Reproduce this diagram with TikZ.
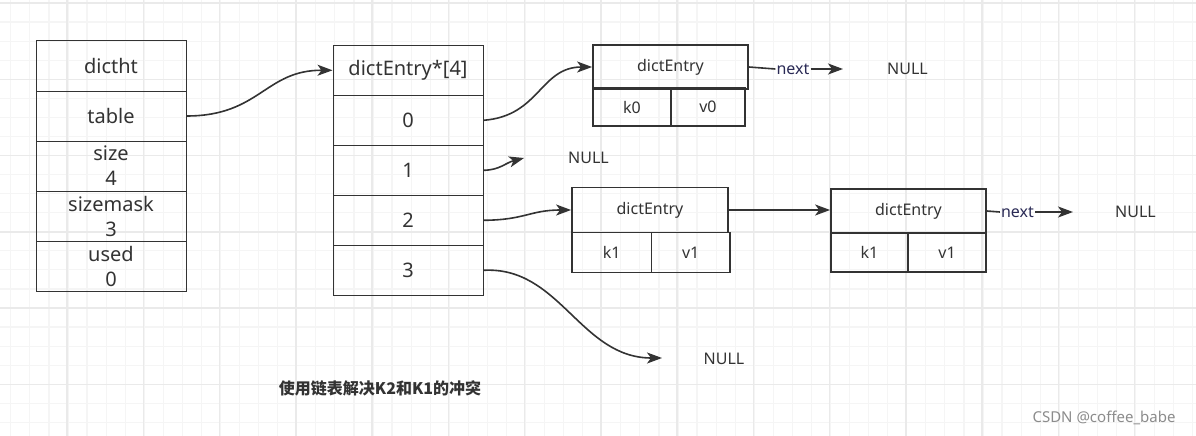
\documentclass[tikz,border=0pt]{standalone}
\usepackage{fontspec}
\setmainfont{Noto Sans}
\newfontfamily\cjk{Noto Sans CJK SC}
\usetikzlibrary{arrows.meta}
\definecolor{ink}{HTML}{333333}
\definecolor{gridfine}{HTML}{F5F5F5}
\definecolor{gridmajor}{HTML}{EAEAEA}
\definecolor{nextc}{HTML}{2A2A55}
\definecolor{wm}{HTML}{8C8C8C}
\begin{document}
\begin{tikzpicture}[x=1pt,y=-1pt,
  cell/.style={draw=ink, line width=1pt, minimum width=150pt, minimum height=50pt, inner sep=0pt,
    font=\fontsize{20}{25}\selectfont, text=ink, align=center},
  ent/.style={draw=ink, line width=1.8pt, inner sep=0pt, font=\fontsize{16}{20}\selectfont, text=ink},
  arr/.style={draw=ink, line width=1.6pt, -{Stealth[length=15pt,width=11pt,inset=4pt]}},
  lbl/.style={font=\fontsize{16}{20}\selectfont, text=ink, inner sep=0pt},
  nxt/.style={font=\fontsize{16}{20}\selectfont, text=nextc, inner sep=1pt},
  fine/.style={draw=gridfine, line width=1.2pt},
  major/.style={draw=gridmajor, line width=1.5pt}]
\useasboundingbox (0,0) rectangle (1196,436);
\fill[white] (0,0) rectangle (1196,436);
% grid
\foreach \i in {0,...,62} {\draw[fine] ({10.8+19.0625*\i},0) -- ++(0,436);}
\foreach \i in {0,...,22} {\draw[fine] (0,{3+19.0625*\i}) -- ++(1196,0);}
\foreach \i in {0,...,14} {\draw[major] ({67+76.25*\i},0) -- ++(0,436);}
\foreach \i in {0,...,5} {\draw[major] (0,{3+76.25*\i}) -- ++(1196,0);}
% dictht
\node[cell] (h0) at (111,66) {dictht};
\node[cell] (h1) at (111,116) {table};
\node[cell] (h2) at (111,166) {size\\4};
\node[cell] (h3) at (111,216) {sizemask\\3};
\node[cell] (h4) at (111,266) {used\\0};
% table array
\node[cell] (t) at (408,70.3) {dictEntry*[4]};
\node[cell] (c0) at (408,120.3) {0};
\node[cell] (c1) at (408,170.3) {1};
\node[cell] (c2) at (408,220.3) {2};
\node[cell] (c3) at (408,270.3) {3};
% entry 0
\node[ent, minimum width=155pt, minimum height=44pt] (e0) at (670.5,67) {dictEntry};
\node[ent, minimum width=78pt, minimum height=38pt] (k0) at (632,107) {k0};
\node[ent, minimum width=74pt, minimum height=38pt] (v0) at (708,107) {v0};
% entry A
\node[ent, minimum width=156pt, minimum height=45pt] (eA) at (650,210) {dictEntry};
\node[ent, minimum width=79.5pt, minimum height=40pt] (kA) at (611.75,252.5) {k1};
\node[ent, minimum width=78.5pt, minimum height=40pt] (vA) at (690.75,252.5) {v1};
% entry B
\node[ent, minimum width=155pt, minimum height=44pt] (eB) at (908.5,211) {dictEntry};
\node[ent, minimum width=77pt, minimum height=39pt] (kB) at (869.5,252.5) {k1};
\node[ent, minimum width=78pt, minimum height=39pt] (vB) at (947,252.5) {v1};
% NULLs
\node[lbl] (n0) at (907.5,69) {NULL};
\node[lbl] (n1) at (588.5,158) {NULL};
\node[lbl] (n2) at (1135.5,212) {NULL};
\node[lbl] (n3) at (724,359) {NULL};
\node[nxt] (x0) at (793,69) {next};
\node[nxt] (x2) at (1017.5,212) {next};
\coordinate (a0) at (843,69);
\coordinate (a1) at (524,158);
\coordinate (a2) at (1073,212);
\coordinate (a3) at (662,358);
% connectors
\draw[arr] (h1.east) .. controls (260,116) and (265,70) .. (t.west);
\draw[arr] (c0.east) .. controls (540,116) and (540,67) .. (e0.west);
\draw[arr] (c1.east) .. controls (500,170) and (505,163) .. (a1);
\draw[arr] (c2.east) .. controls (525,220) and (530,210) .. (eA.west);
\draw[arr] (eA.east) -- (eB.west |- eA.east);
\draw[arr] (c3.east) .. controls (560,266) and (580,358) .. (a3);
\draw[draw=ink, line width=1.6pt] (e0.east) -- (x0.west);
\draw[arr] (x0.east) -- (a0);
\draw[draw=ink, line width=1.6pt] (eB.east) -- (x2.west);
\draw[arr] (x2.east) -- (a2);
% caption
\node[inner sep=0pt, text=ink, font=\cjk\bfseries\fontsize{16}{20}\selectfont] (cap) at (380,388) {使用链表解决K2和K1的冲突};
\node[inner sep=0pt, text=wm, font=\fontsize{15}{18}\selectfont] (wmk) at (1104,418) {CSDN @coffee\_babe};
\end{tikzpicture}
\end{document}
